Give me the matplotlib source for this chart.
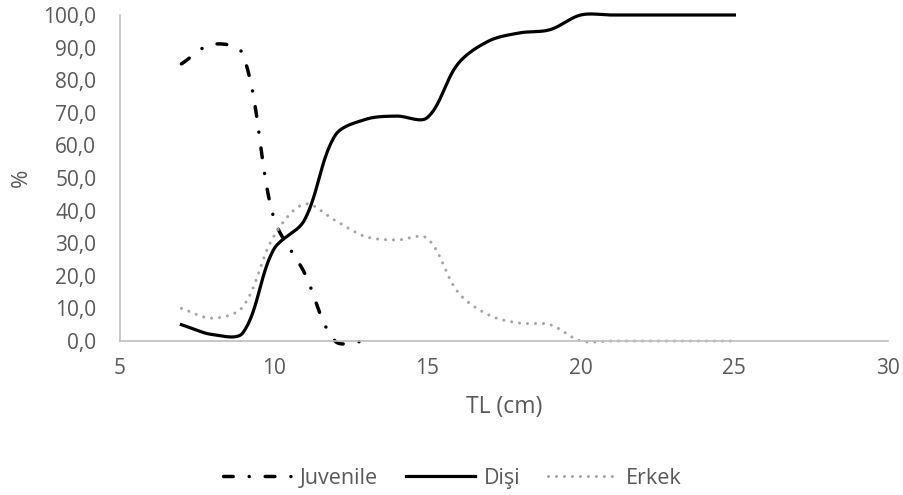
import numpy as np
import matplotlib.pyplot as plt
from matplotlib.ticker import FuncFormatter

plt.rcParams['font.family'] = ['Open Sans', 'DejaVu Sans']

# Data (TL in cm, % per group)
tl_juv = [7, 8, 9, 10, 11, 12, 13]
juvenile = [85, 91, 88, 38, 21, 0, 0]

tl = [7, 8, 9, 10, 11, 12, 13, 14, 15, 16, 17, 18, 19, 20, 21, 22, 23, 24, 25]
disi = [5, 2, 2.5, 28, 37, 63, 68, 69, 68.5, 85, 92, 94.5, 95.5, 100, 100, 100, 100, 100, 100]
erkek = [10, 7, 10.5, 32, 42, 37, 32, 31, 31.5, 15, 8, 5.5, 5, 0, 0, 0, 0, 0, 0]


def smooth(ax, x, y, n=40):
    # smoothed line like Excel: cubic Bezier, tangents weighted by on-screen segment length
    pts = ax.transData.transform(np.column_stack([x, y]))
    m = len(pts)
    t = np.linspace(0, 1, n)[:, None]
    out = []
    for i in range(m - 1):
        p0 = pts[max(i - 1, 0)]
        p1 = pts[i]
        p2 = pts[i + 1]
        p3 = pts[min(i + 2, m - 1)]
        d01 = np.hypot(*(p1 - p0))
        d12 = np.hypot(*(p2 - p1))
        d23 = np.hypot(*(p3 - p2))
        c1 = p1 + (p2 - p0) / 3 * d12 / (d01 + d12)
        c2 = p2 - (p3 - p1) / 3 * d12 / (d12 + d23)
        seg = (1 - t)**3 * p1 + 3 * (1 - t)**2 * t * c1 + 3 * (1 - t) * t**2 * c2 + t**3 * p2
        out.append(seg)
    out = ax.transData.inverted().transform(np.vstack(out))
    return out[:, 0], out[:, 1]


fig = plt.figure(figsize=(9.04, 4.95), dpi=100)
ax = fig.add_axes([0.1327, 0.3111, 0.8496, 0.6586])
ax.set_xlim(5, 30)
ax.set_ylim(0, 100)

x, y = smooth(ax, tl_juv, juvenile)
ax.plot(x, y, color='black', lw=2.5, dashes=(2.8, 4.6, 0.01, 4.6), dash_capstyle='round',
        label='Juvenile', clip_on=False)
x, y = smooth(ax, tl, disi)
ax.plot(x, y, color='black', lw=2.3, label='Dişi', clip_on=False)
x, y = smooth(ax, tl, erkek)
ax.plot(x, y, color='#A5A5A5', lw=2.2, dashes=(0.01, 2.6), dash_capstyle='round',
        label='Erkek', clip_on=False)

ax.set_xticks([5, 10, 15, 20, 25, 30])
ax.set_yticks(np.arange(0, 101, 10))
ax.yaxis.set_major_formatter(FuncFormatter(lambda v, p: f'{v:.1f}'.replace('.', ',')))

for s in ['top', 'right']:
    ax.spines[s].set_visible(False)
for s in ['bottom', 'left']:
    ax.spines[s].set_color('#BFBFBF')
    ax.spines[s].set_linewidth(1.2)
ax.tick_params(length=0, labelsize=15, colors='#595959')
ax.tick_params(axis='x', pad=12)
ax.tick_params(axis='y', pad=17)

ax.set_xlabel('TL (cm)', fontsize=16.5, color='#595959', labelpad=12)
ax.set_ylabel('%', fontsize=16, color='#595959', labelpad=8)

fig.legend(loc='center', bbox_to_anchor=(0.5, 0.034), ncol=3, frameon=False,
           fontsize=15.5, handlelength=3.2, columnspacing=1.3, handletextpad=0.4,
           labelcolor='#595959')

plt.savefig('out.png', dpi=100)
